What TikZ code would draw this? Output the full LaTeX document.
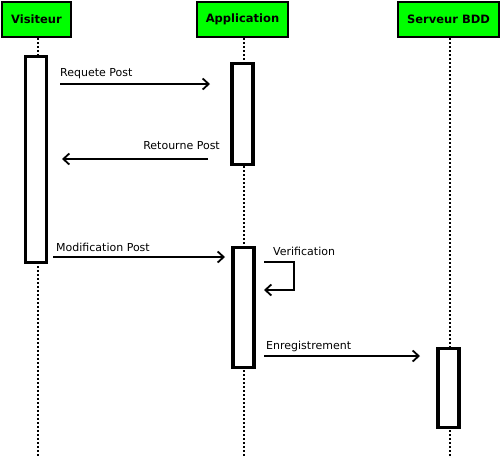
\documentclass[tikz,border=0pt]{standalone}
\usepackage{fontspec}
\setmainfont{DejaVu Sans}
\usetikzlibrary{arrows.meta,positioning}
\tikzset{
>={Straight Barb[length=6pt,width=11pt]},
  acteur/.style={
    rectangle,
    draw=black, line width=2pt,
    fill=green,
    minimum height=35pt,
    inner sep=0pt,
    font=\fontsize{11.5}{13}\selectfont\bfseries},
  vie/.style={draw, line width=2pt, dash pattern=on 2pt off 2pt},
  activ/.style={
    rectangle,
    draw=black, line width=3.2pt,
    fill=white,
    minimum width=21pt,
    inner sep=0pt},
  msg/.style={draw, line width=1.8pt, ->},
  etiq/.style={font=\fontsize{11}{13}\selectfont, inner sep=0pt},
}
\begin{document}
\begin{tikzpicture}[x=1pt,y=-1pt]
  \useasboundingbox (0,0) rectangle (503,464);
  % acteurs
  \node[acteur, minimum width=69pt]  (visiteur) at (36.5,19.5) {Visiteur};
  \node[acteur, minimum width=91pt]  (appli)    at (242.5,19.5) {Application};
  \node[acteur, minimum width=101pt] (serveur)  at (448.5,19.5) {Serveur BDD};
  % lignes de vie
  \coordinate (finV) at (37.5,457);
  \coordinate (finA) at (243.5,457);
  \coordinate (finS) at (449.5,457);
  \draw[vie] (visiteur.south -| finV) -- (finV);
  \draw[vie] (appli.south -| finA) -- (finA);
  \draw[vie] (serveur.south -| finS) -- (finS);
  % activations
  \node[activ, minimum height=206pt] (actV)  at (36,159.5) {};
  \node[activ, minimum height=101pt] (actA1) at (242.5,114) {};
  \node[activ, minimum height=120pt] (actA2) at (243.5,307.5) {};
  \node[activ, minimum height=79pt]  (actS)  at (448.5,388) {};
  % messages
  \coordinate (req1) at (60,84);    \coordinate (req2) at (210,84);
  \coordinate (ret1) at (208,159);  \coordinate (ret2) at (62,159);
  \coordinate (mod1) at (53,257);   \coordinate (mod2) at (225,257);
  \coordinate (ver1) at (264,262);  \coordinate (ver2) at (264,290);
  \coordinate (enr1) at (264,356);  \coordinate (enr2) at (420,356);
  \draw[msg] (req1) -- (req2);
  \draw[msg] (ret1) -- (ret2);
  \draw[msg] (mod1) -- (mod2);
  \draw[msg] (ver1) -- ++(30,0) |- (ver2);
  \draw[msg] (enr1) -- (enr2);
  % etiquettes
  \node[etiq, anchor=base west] (lreq) at (60,76) {Requete Post};
  \node[etiq, anchor=base east] (lret) at (220,149) {Retourne Post};
  \node[etiq, anchor=base west] (lmod) at (56,251) {Modification Post};
  \node[etiq, anchor=base west] (lver) at (273,255) {Verification};
  \node[etiq, anchor=base west] (lenr) at (266,349) {Enregistrement};
\end{tikzpicture}
\end{document}
